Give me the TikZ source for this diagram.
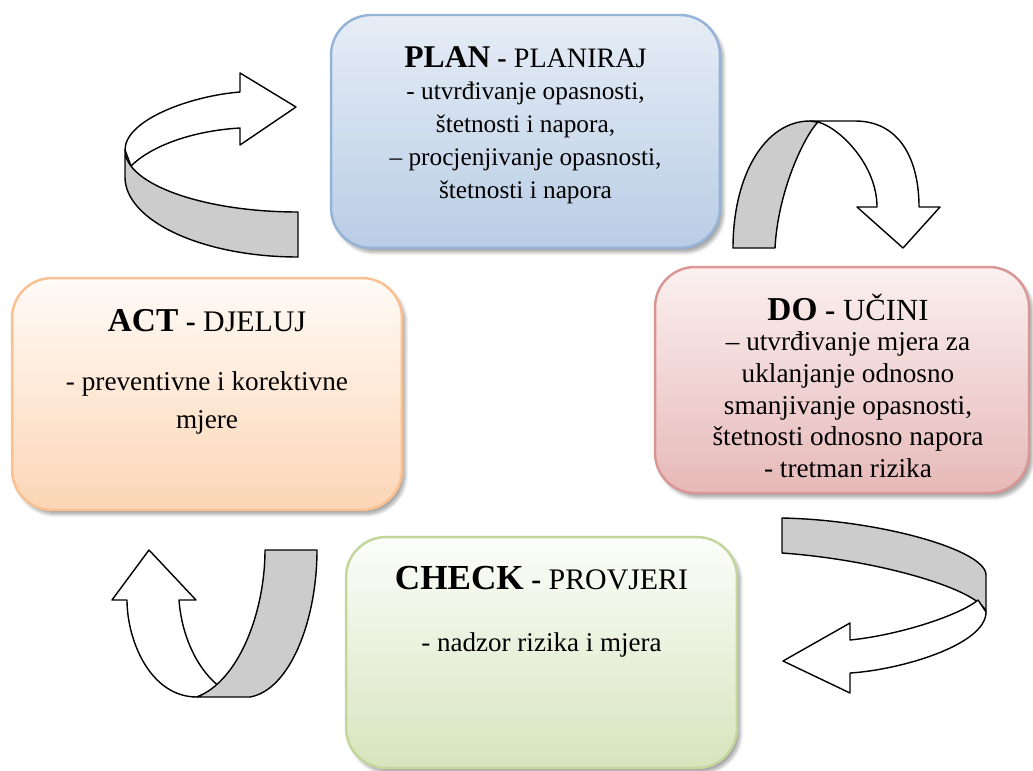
\documentclass[tikz,border=0pt]{standalone}
\usepackage{fontspec}
\setmainfont{Liberation Serif}
\usepackage{xcolor}
\usepackage{tikz}
\usetikzlibrary{positioning, shadows.blur}

\definecolor{planline}{HTML}{95B3D7}
\definecolor{plantop}{HTML}{E6EDF6}
\definecolor{planbot}{HTML}{B9CDE5}
\definecolor{doline}{HTML}{D99694}
\definecolor{dotop}{HTML}{FBF0F0}
\definecolor{dobot}{HTML}{E6B9B8}
\definecolor{actline}{HTML}{FAC090}
\definecolor{acttop}{HTML}{FFFBF7}
\definecolor{actbot}{HTML}{FCD5B5}
\definecolor{checkline}{HTML}{C3D69B}
\definecolor{checktop}{HTML}{FCFDFA}
\definecolor{checkbot}{HTML}{D7E4BD}

\begin{document}
\begin{tikzpicture}[
    x=0.02cm, y=-0.02cm,
    every node/.style={inner sep=0pt},
    box/.style={
        rectangle,
        rounded corners=0.8cm,
        line width=1.4pt,
        blur shadow={shadow xshift=0.07cm, shadow yshift=-0.09cm,
            shadow blur steps=6, shadow opacity=35}
    },
    planbox/.style={box, draw=planline, top color=plantop, bottom color=planbot,
        minimum width=7.78cm, minimum height=4.66cm},
    dobox/.style={box, draw=doline, top color=dotop, bottom color=dobot,
        minimum width=7.48cm, minimum height=4.52cm},
    actbox/.style={box, draw=actline, top color=acttop, bottom color=actbot,
        minimum width=7.8cm, minimum height=4.64cm},
    checkbox/.style={box, draw=checkline, top color=checktop, bottom color=checkbot,
        minimum width=7.82cm, minimum height=4.62cm},
    txt/.style={align=center, text=black},
    ribbon/.style={draw=black, line width=0.8pt, fill=gray!40, line join=round},
    front/.style={draw=black, line width=0.8pt, fill=white, line join=round}
]
\useasboundingbox (0,0) rectangle (1033,770);

% The four steps
\node[planbox] (plan) at (525.5,131.5) {};
\node[dobox] (do) at (842,380) {};
\node[actbox] (act) at (207,394) {};
\node[checkbox] (check) at (541.5,652.5) {};

\node[txt, below=0.64cm of plan.north, font=\fontsize{14.4}{18.7}\selectfont] (plantxt)
    {{\fontsize{18}{18}\selectfont\bfseries PLAN}{\fontsize{16}{16}\selectfont{} \textbf{-} PLANIRAJ}\\
     - utvrđivanje opasnosti,\\štetnosti i napora,\\– procjenjivanje opasnosti,\\štetnosti i napora};
\node[txt, below=0.56cm of do.north, xshift=0.12cm, font=\fontsize{15.5}{18.1}\selectfont] (dotxt)
    {{\fontsize{19}{19}\selectfont\bfseries DO}{\fontsize{17.5}{17.5}\selectfont{} \textbf{-} UČINI}\\[-1pt]
     – utvrđivanje mjera za\\uklanjanje odnosno\\smanjivanje opasnosti,\\štetnosti odnosno napora\\- tretman rizika};
\node[txt, below=0.64cm of act.north, font=\fontsize{15.5}{21.5}\selectfont] (acttxt)
    {{\fontsize{19}{19}\selectfont\bfseries ACT}{\fontsize{17}{17}\selectfont{} \textbf{-} DJELUJ}\\[12.5pt]
     - preventivne i korektivne\\mjere};
\node[txt, below=0.6cm of check.north, font=\fontsize{15.4}{21.5}\selectfont] (checktxt)
    {{\fontsize{20}{20}\selectfont\bfseries CHECK}{\fontsize{17}{17}\selectfont{} \textbf{-} PROVJERI}\\[14pt]
     - nadzor rizika i mjera};

% Ribbon arrows between the steps
% act -> plan
\filldraw[front] (240,92) .. controls (190,96) and (125,120) .. (125,150) -- (131,166)
    .. controls (150,147) and (190,131) .. (240,128) -- (240,145) -- (296,107) -- (240,73) -- cycle;
\filldraw[ribbon] (125,150) .. controls (125,184) and (203,212) .. (298,212) -- (298,257)
    .. controls (203,257) and (125,221) .. (125,177) -- cycle;

% plan -> do
\filldraw[ribbon] (733,248) .. controls (733,175) and (765,121) .. (810,121) -- (818,122)
    .. controls (805,135) and (778,190) .. (775,248) -- cycle;
\filldraw[front] (810,121) -- (855,121) .. controls (900,121) and (919,160) .. (919,207)
    -- (940,207) -- (903,248) -- (857,207) -- (877,207)
    .. controls (877,165) and (840,128) .. (818,122) -- cycle;

% do -> check
\filldraw[ribbon] (782,518) .. controls (880,520) and (986,550) .. (986,575) -- (986,612)
    .. controls (980,590) and (880,560) .. (782,553) -- cycle;
\filldraw[front] (986,612) .. controls (986,645) and (900,670) .. (850,673) -- (850,693)
    -- (783,661) -- (850,623) -- (850,640) .. controls (900,635) and (960,615) .. (978,600) -- cycle;

% check -> act
\filldraw[front] (197,697) .. controls (150,697) and (127,640) .. (127,600) -- (112,600)
    -- (149,550) -- (196,600) -- (179,600) .. controls (182,640) and (200,672) .. (220,687) -- cycle;
\filldraw[ribbon] (265,550) -- (317,550) .. controls (317,620) and (290,690) .. (250,697)
    -- (197,697) .. controls (240,680) and (265,610) .. (265,550) -- cycle;

\end{tikzpicture}
\end{document}
